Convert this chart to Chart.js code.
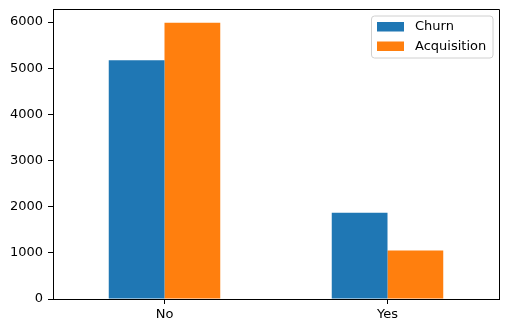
<!DOCTYPE html>
<html>
<head>
<meta charset="utf-8">
<script src="https://cdn.jsdelivr.net/npm/chart.js@4"></script>
<style>
    html, body { margin: 0; padding: 0; background: #fff; }
    #wrap { width: 509px; height: 331px; }
</style>
</head>
<body>
<div id="wrap"><canvas id="chart" width="509" height="331"></canvas></div>
<script>
    "use strict";

    var categories = ['No', 'Yes'];
    var seriesNames = ['Churn', 'Acquisition'];
    var churnValues = [5174, 1869];
    var acquisitionValues = [5985, 1050];
    var yTicks = [0, 1000, 2000, 3000, 4000, 5000, 6000];
    var seriesColors = ['#1f77b4', '#ff7f0e'];

    var FONT = '"DejaVu Sans", sans-serif';

    // matplotlib-style y margin: 5% above the tallest bar
    var yMax = Math.max.apply(null, churnValues.concat(acquisitionValues)) * 1.05;

    /** Top and right spines, plus legend box in the upper right */
    var framePlugin = {
        id: 'frame',
        afterDraw: function (chart) {
            var ctx = chart.ctx;
            var a = chart.chartArea;
            ctx.save();
            ctx.strokeStyle = '#000';
            ctx.lineWidth = 1;
            ctx.beginPath();
            ctx.moveTo(a.left, a.top + 0.5);
            ctx.lineTo(a.right + 0.5, a.top + 0.5);
            ctx.lineTo(a.right + 0.5, a.bottom);
            ctx.stroke();

            // legend
            var bx = a.right - 128, by = a.top + 6.5, bw = 121.5, bh = 42;
            ctx.beginPath();
            ctx.roundRect(bx + 0.5, by + 0.5, bw, bh, 3);
            ctx.fillStyle = 'rgba(255,255,255,0.8)';
            ctx.fill();
            ctx.strokeStyle = '#d0d0d0';
            ctx.stroke();

            ctx.font = '13px ' + FONT;
            ctx.textBaseline = 'middle';
            ctx.textAlign = 'left';
            chart.data.datasets.forEach(function (ds, i) {
                var cy = by + 11 + i * 19.5;
                ctx.fillStyle = ds.backgroundColor;
                ctx.fillRect(bx + 6, cy - 4.5, 27, 9.5);
                ctx.fillStyle = '#000';
                ctx.fillText(ds.label, bx + 44, cy + 0.5);
            });
            ctx.restore();
        }
    };

    var ctx = document.getElementById('chart').getContext('2d');
    var chart = new Chart(ctx, {
        type: 'bar',
        data: {
            labels: categories,
            datasets: [{
                label: seriesNames[0],
                data: churnValues,
                backgroundColor: seriesColors[0]
            }, {
                label: seriesNames[1],
                data: acquisitionValues,
                backgroundColor: seriesColors[1]
            }]
        },
        options: {
            responsive: false,
            animation: false,
            layout: { padding: { top: 9, right: 10, left: 0, bottom: 0 } },
            datasets: {
                bar: { categoryPercentage: 0.5, barPercentage: 1.0, borderWidth: 0 }
            },
            plugins: {
                legend: { display: false },
                tooltip: { enabled: false }
            },
            scales: {
                x: {
                    offset: true,
                    grid: { offset: false, drawOnChartArea: false, color: '#000', tickLength: 5 },
                    border: { display: true, color: '#000', width: 1 },
                    ticks: { color: '#000', padding: 3, font: { family: FONT, size: 13 } },
                    afterFit: function (scale) {
                        scale.height = 32;
                        scale.paddingLeft = 0;
                        scale.paddingRight = 0;
                    }
                },
                y: {
                    min: 0,
                    max: yMax,
                    grid: { drawOnChartArea: false, color: '#000', tickLength: 5 },
                    border: { display: true, color: '#000', width: 1 },
                    ticks: {
                        color: '#000',
                        padding: 5,
                        font: { family: FONT, size: 13 },
                        callback: function (v) { return String(v); }
                    },
                    afterBuildTicks: function (scale) {
                        scale.ticks = yTicks.map(function (v) { return { value: v }; });
                    },
                    afterFit: function (scale) {
                        scale.width = 53;
                        scale.paddingTop = 0;
                        scale.paddingBottom = 0;
                    }
                }
            }
        },
        plugins: [framePlugin]
    });
</script>
</body>
</html>
